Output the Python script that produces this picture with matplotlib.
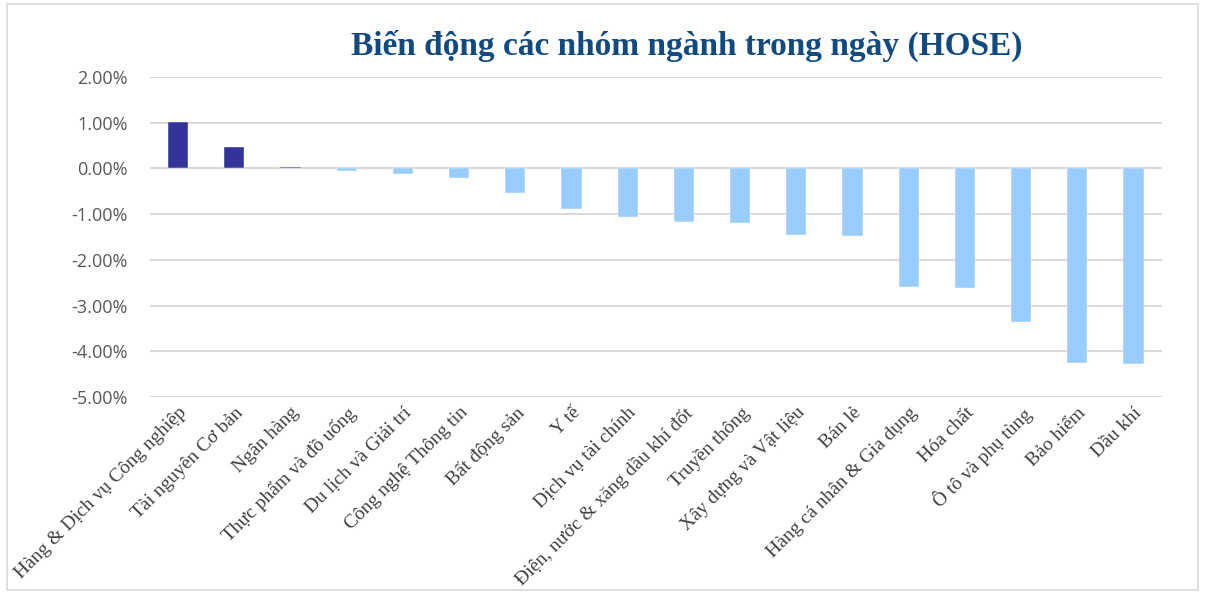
import matplotlib.pyplot as plt
from matplotlib.patches import Rectangle
from matplotlib.ticker import FuncFormatter

# sector names (HOSE) and daily change in percent
sectors = ["Hàng & Dịch vụ Công nghiệp", "Tài nguyên Cơ bản", "Ngân hàng",
           "Thực phẩm và đồ uống", "Du lịch và Giải trí", "Công nghệ Thông tin",
           "Bất động sản", "Y tế", "Dịch vụ tài chính",
           "Điện, nước & xăng dầu khí đốt", "Truyền thông", "Xây dựng và Vật liệu",
           "Bán lẻ", "Hàng cá nhân & Gia dụng", "Hóa chất", "Ô tô và phụ tùng",
           "Bảo hiểm", "Dầu khí"]
change = [1.02, 0.48, 0.04, -0.05, -0.12, -0.20, -0.53, -0.88, -1.07,
          -1.16, -1.19, -1.46, -1.48, -2.60, -2.62, -3.35, -4.26, -4.28]
yticks = [2, 1, 0, -1, -2, -3, -4, -5]

colors = ["#333399" if v > 0 else "#99CCFF" for v in change]

fig = plt.figure(figsize=(12.05, 5.92), dpi=100)
ax = fig.add_axes([0.1245, 0.329, 0.8395, 0.541])

x = range(len(sectors))
ax.bar(x, change, width=0.36, color=colors, edgecolor="white", linewidth=0.3, zorder=3)

ax.set_ylim(-5, 2)
ax.set_xlim(-0.5, len(sectors) - 0.5)
ax.set_yticks(yticks)
ax.yaxis.set_major_formatter(FuncFormatter(lambda v, p: f"{v:.2f}%"))
ax.grid(axis="y", color="#D9D9D9", linewidth=1.5, zorder=0)
for s in ax.spines.values():
    s.set_visible(False)
ax.tick_params(axis="both", length=0)
ax.tick_params(axis="y", labelsize=13, labelcolor="#595959", pad=16)
for t in ax.get_yticklabels():
    t.set_family("Open Sans")

ax.set_xticks(list(x))
ax.set_xticklabels(sectors, rotation=45, ha="right", rotation_mode="anchor",
                   family="Liberation Serif", fontsize=14, color="#404040")
ax.tick_params(axis="x", pad=5)

fig.text(0.57, 0.922, "Biến động các nhóm ngành trong ngày (HOSE)",
         ha="center", va="center", fontsize=24, fontweight="bold",
         family="Liberation Serif", color="#124A80")

# light frame round the chart
fig.patches.append(Rectangle((0.006, 0.004), 0.988, 0.99, transform=fig.transFigure,
                             fill=False, edgecolor="#D9D9D9", linewidth=1.2))

fig.savefig("out.png", dpi=100)
